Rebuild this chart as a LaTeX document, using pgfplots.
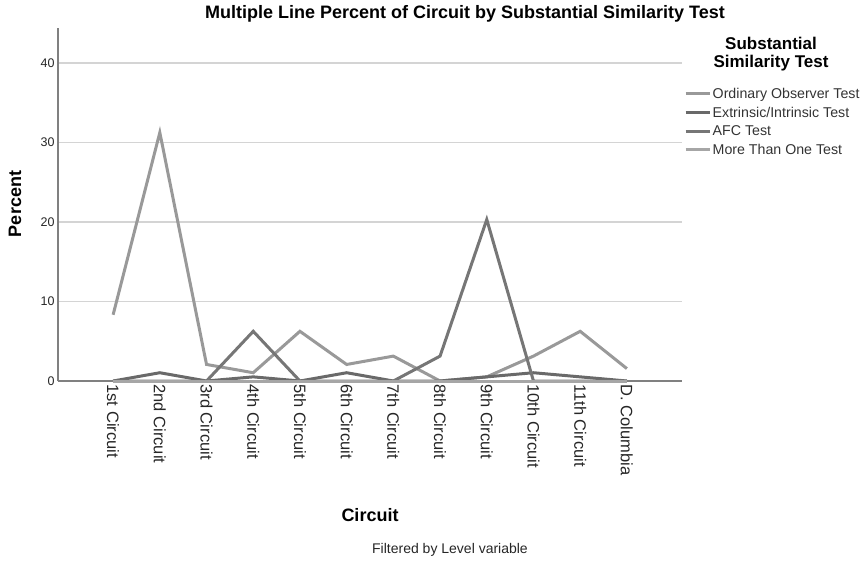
\documentclass[border=0pt]{standalone}
\usepackage{fontspec}
\setmainfont{Liberation Sans}
\usepackage{pgfplots}
\pgfplotsset{compat=1.18}
\definecolor{cOrd}{HTML}{999999}
\definecolor{cExt}{HTML}{696969}
\definecolor{cAFC}{HTML}{767676}
\definecolor{cMore}{HTML}{A6A6A6}
\begin{document}
\begin{tikzpicture}
\useasboundingbox (-58bp,-182bp) rectangle (804bp,381bp);
\begin{axis}[
  at={(0,0)}, anchor=south west,
  width=624bp, height=353bp, scale only axis,
  xmin=-1.18, xmax=12.18, ymin=0, ymax=44.4,
  axis x line*=bottom, axis y line*=left,
  axis line style={line width=1.3bp, color=black!50, -},
  xtick={0,...,11},
  xticklabels={1st Circuit,2nd Circuit,3rd Circuit,4th Circuit,5th Circuit,6th Circuit,7th Circuit,8th Circuit,9th Circuit,10th Circuit,11th Circuit,D. Columbia},
  ytick={0,10,20,30,40},
  major tick length=0,
  ymajorgrids, grid style={line width=1.3bp, color=black!17},
  /pgf/number format/assume math mode=true,
  xticklabel style={rotate=-90, anchor=west, font=\fontsize{16.5bp}{18bp}\selectfont, color=black!85},
  yticklabel style={font=\fontsize{12.5bp}{15bp}\selectfont, color=black!85},
  clip=false,
  legend cell align=left,
  legend style={at={(1.0032,0.835)}, anchor=north west, draw=none, fill=none,
    font=\fontsize{14.2bp}{16.5bp}\selectfont, inner sep=0pt, row sep=4bp,
    text=black!80,
    nodes={inner sep=1.5bp}},
  legend image code/.code={\draw[#1] (0bp,0bp) -- (24bp,0bp);},
]
\addplot[color=cOrd, line width=3bp] coordinates {(0,8.33)(1,31.25)(2,2.08)(3,1.04)(4,6.25)(5,2.08)(6,3.13)(7,0)(8,0.52)(9,3.13)(10,6.25)(11,1.56)};
\addlegendentry{Ordinary Observer Test}
\addplot[color=cExt, line width=3bp] coordinates {(0,0)(1,1.04)(2,0)(3,0.52)(4,0)(5,1.04)(6,0)(7,0)(8,0.52)(9,1.04)(10,0.52)(11,0)};
\addlegendentry{Extrinsic/Intrinsic Test}
\addplot[color=cAFC, line width=3bp] coordinates {(0,0)(1,0)(2,0)(3,6.25)(4,0)(5,0)(6,0)(7,3.13)(8,20.31)(9,0)(10,0)(11,0)};
\addlegendentry{AFC Test}
\addplot[color=cMore, line width=3bp] coordinates {(0,0)(1,0)(2,0)(3,0)(4,0)(5,0)(6,0)(7,0)(8,0)(9,0)(10,0)(11,0)};
\addlegendentry{More Than One Test}
\end{axis}
\node[font=\fontsize{18bp}{20bp}\selectfont\bfseries] at (407bp,367bp) {Multiple Line Percent of Circuit by Substantial Similarity Test};
\node[rotate=90, font=\fontsize{18bp}{20bp}\selectfont\bfseries] at (-43bp,177bp) {Percent};
\node[font=\fontsize{18bp}{20bp}\selectfont\bfseries] at (312bp,-134bp) {Circuit};
\node[font=\fontsize{14bp}{16bp}\selectfont, color=black!85] at (392bp,-169bp) {Filtered by Level variable};
\node[font=\fontsize{17bp}{18.5bp}\selectfont\bfseries, align=center] at (713bp,327bp) {Substantial\\Similarity Test};
\end{tikzpicture}
\end{document}
